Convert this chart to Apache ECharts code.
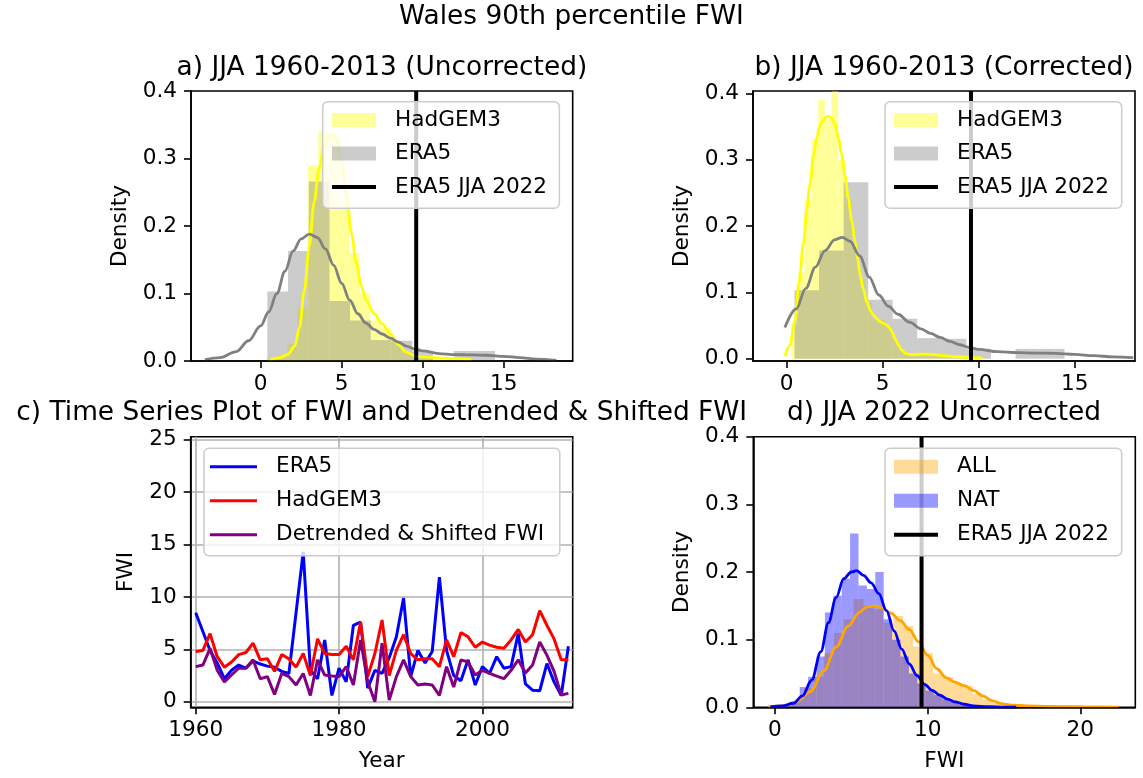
<!DOCTYPE html>
<html><head><meta charset="utf-8">
<script src="https://cdn.jsdelivr.net/npm/echarts@6/dist/echarts.min.js"></script>
<style>html,body{margin:0;padding:0;background:#fff}#c{width:1143px;height:778px}</style>
</head><body><div id="c"></div>
<script>
// ---------------- DATA ----------------
const ERA5_JJA_2022 = 9.6;

// ERA5 observed histogram (same in panels a and b)
const era5Edges = [0.41,1.69,2.97,4.25,5.52,6.80,8.08,9.36,10.64,11.92,13.19,14.47];
const era5Density = [0.103,0.163,0.266,0.089,0.060,0.031,0.030,0.015,0,0.0148,0.0148];

// a) HadGEM3 uncorrected histogram
const hadUncEdges = [0.36,1.0,1.64,2.28,2.92,3.56,4.2,4.84,5.48,6.12,6.76,7.4,8.04,8.68,9.32,9.96,10.6,11.24,11.88,12.52,13.16];
const hadUncDensity = [0.003,0.008,0.025,0.08,0.29,0.34,0.33,0.24,0.16,0.10,0.06,0.05,0.028,0.013,0.008,0.005,0.004,0.003,0.003,0.002];

// a) KDE curves
const hadUncKdeX = [0.57,1.2,1.7,2.1,2.4,2.7,3.0,3.3,3.6,3.9,4.2,4.45,4.7,5.0,5.3,5.6,5.9,6.2,6.5,7.0,7.5,8.0,8.5,9.0,9.5,10.0,11.0,12.0,13.0];
const hadUncKdeY = [0.002,0.005,0.01,0.022,0.05,0.105,0.17,0.235,0.285,0.318,0.334,0.337,0.328,0.295,0.245,0.19,0.145,0.112,0.09,0.07,0.055,0.04,0.024,0.013,0.008,0.006,0.0045,0.0035,0.0025];
const era5KdeAX = [-3.44,-2.5,-1.5,-0.75,0.0,0.5,1.0,1.5,2.0,2.5,3.0,3.5,4.0,4.5,5.0,5.5,6.0,6.5,7.0,7.5,8.0,8.5,9.0,9.5,10.0,11.0,12.0,13.0,14.0,15.0,16.0,17.0,18.25];
const era5KdeAY = [0.002,0.005,0.014,0.03,0.052,0.073,0.1,0.133,0.163,0.181,0.188,0.183,0.166,0.142,0.115,0.09,0.07,0.056,0.047,0.04,0.034,0.028,0.022,0.018,0.015,0.011,0.0095,0.009,0.0085,0.007,0.005,0.0028,0.001];

// b) HadGEM3 corrected histogram
const hadCorEdges = [0.24,0.59,0.94,1.29,1.64,1.99,2.34,2.69,3.04,3.39,3.74,4.09,4.44,4.79,5.14,5.49,5.84,6.19,6.54,6.89,7.24,7.59,7.94,8.29,8.64,8.99,9.34,9.69,10.04];
const hadCorDensity = [0.05,0.13,0.24,0.33,0.39,0.36,0.42,0.30,0.24,0.17,0.12,0.085,0.06,0.058,0.05,0.03,0.012,0.006,0.006,0.008,0.007,0.005,0.004,0.003,0.003,0.002,0.002,0.001];

// b) KDE curves
const hadCorKdeX = [-0.09,0.17,0.43,0.65,0.87,1.05,1.21,1.4,1.56,1.75,1.91,2.05,2.17,2.35,2.52,2.7,2.86,3.05,3.21,3.4,3.56,3.7,3.82,4.0,4.17,4.34,4.51,4.7,4.86,5.05,5.21,5.35,5.47,5.65,5.82,6.0,6.16,6.4,6.6,6.95,7.29,7.7,8.16,8.8,9.55,10.2];
const hadCorKdeY = [0.0035,0.02,0.056,0.115,0.172,0.225,0.262,0.305,0.333,0.352,0.36,0.364,0.366,0.362,0.353,0.332,0.308,0.275,0.242,0.207,0.177,0.15,0.127,0.104,0.086,0.074,0.066,0.06,0.056,0.053,0.051,0.047,0.041,0.03,0.021,0.013,0.0085,0.0065,0.006,0.007,0.007,0.006,0.0045,0.003,0.002,0.0008];
const era5KdeBX = [-0.09,0.5,1.0,1.5,2.0,2.5,2.9,3.3,3.8,4.3,4.8,5.3,5.8,6.4,7.0,7.5,8.0,8.5,9.0,9.5,10.0,11.0,12.0,13.0,14.0,15.0,16.0,17.0,18.05];
const era5KdeBY = [0.047,0.075,0.106,0.138,0.163,0.179,0.183,0.177,0.155,0.123,0.096,0.079,0.067,0.055,0.045,0.038,0.032,0.026,0.021,0.017,0.014,0.0105,0.009,0.0085,0.008,0.0065,0.0045,0.0028,0.0015];

// c) time series
const years = [1960,1961,1962,1963,1964,1965,1966,1967,1968,1969,1970,1971,1972,1973,1974,1975,1976,1977,1978,1979,1980,1981,1982,1983,1984,1985,1986,1987,1988,1989,1990,1991,1992,1993,1994,1995,1996,1997,1998,1999,2000,2001,2002,2003,2004,2005,2006,2007,2008,2009,2010,2011,2012];
const era5Fwi = [8.5,6.7,4.9,3.7,2.2,3.0,3.5,3.2,3.9,3.6,3.4,3.3,2.9,2.7,8.5,14.3,3.0,2.2,5.9,0.6,3.2,1.9,7.3,7.6,1.3,3.0,2.7,4.2,6.2,9.9,2.4,4.9,3.7,4.8,11.9,4.9,2.5,2.0,4.0,1.6,3.35,2.7,4.3,3.2,3.35,6.5,1.7,1.1,1.05,3.65,1.9,0.6,5.3];
const hadgemFwi = [4.8,4.9,6.5,4.3,3.3,3.8,4.5,4.7,5.6,4.0,4.1,2.9,4.5,4.1,3.3,4.6,2.5,6.0,4.6,4.5,4.5,5.3,4.0,7.6,2.4,4.6,7.8,2.5,4.9,6.4,4.6,4.0,4.1,4.1,3.35,5.9,4.3,6.6,6.2,5.2,5.7,5.4,5.2,5.1,5.9,6.9,5.7,6.4,8.7,7.3,6.0,4.0,4.0];
const detrendedFwi = [3.35,3.5,5.1,3.0,1.9,2.55,3.2,3.2,4.0,2.2,2.4,0.7,2.7,2.4,1.6,2.7,0.6,4.0,2.55,2.45,2.4,3.35,1.6,5.9,1.9,0.0,5.6,0.15,2.4,4.0,2.4,1.6,1.7,1.6,0.6,3.35,1.4,4.0,3.8,2.55,3.0,2.7,2.45,2.2,3.0,4.0,2.75,3.5,5.7,4.45,2.9,0.65,0.8];

// d) ALL / NAT histograms
const allEdges = [0.6,1.25,1.9,2.55,3.2,3.85,4.5,5.15,5.8,6.45,7.1,7.75,8.4,9.05,9.7,10.35,11.0,11.65,12.3,12.95,13.6,14.25,14.9,15.55,16.2,16.85,17.5,18.15,18.8,19.45,20.1];
const allDensity = [0.004,0.012,0.028,0.045,0.08,0.11,0.13,0.16,0.15,0.145,0.125,0.135,0.12,0.09,0.08,0.05,0.045,0.035,0.032,0.02,0.012,0.006,0.004,0.003,0.003,0.002,0.001,0.001,0.001,0.001];
const natEdges = [0.52,1.07,1.62,2.17,2.72,3.27,3.82,4.37,4.92,5.47,6.02,6.57,7.12,7.67,8.22,8.77,9.32,9.87,10.42,10.97,11.52,12.07,12.62,13.17];
const natDensity = [0.002,0.008,0.03,0.045,0.075,0.14,0.165,0.19,0.257,0.18,0.175,0.20,0.13,0.10,0.075,0.05,0.035,0.025,0.018,0.012,0.008,0.004,0.002];
const allKdeX = [-0.44,0.5,1.4,2.3,3.2,4.0,4.8,5.5,6.0,6.5,7.0,7.6,8.2,8.8,9.4,10.0,10.6,11.2,11.8,12.4,13.0,13.6,14.2,14.8,15.5,16.5,18.0,20.0,22.5];
const allKdeY = [0.0005,0.002,0.008,0.023,0.054,0.089,0.12,0.14,0.148,0.15,0.147,0.139,0.128,0.115,0.097,0.077,0.057,0.044,0.037,0.032,0.025,0.017,0.01,0.0055,0.0033,0.002,0.0012,0.0008,0.0003];
const natKdeX = [-0.3,0.5,1.2,1.8,2.4,3.0,3.5,4.0,4.5,5.0,5.35,5.8,6.3,6.8,7.3,7.8,8.3,8.8,9.3,9.8,10.3,10.8,11.3,11.8,12.4,13.0,14.0,15.0,15.8];
const natKdeY = [0.0005,0.002,0.006,0.017,0.04,0.082,0.125,0.162,0.19,0.2,0.202,0.195,0.184,0.168,0.143,0.113,0.086,0.064,0.047,0.034,0.025,0.018,0.012,0.008,0.0045,0.002,0.0008,0.0003,0.0001];

// tick labels
const densTicks = [0,0.1,0.2,0.3,0.4];
const fwiTicksAB = [0,5,10,15];
const fwiTicksD = [0,10,20];
const yearTicks = [1960,1980,2000];
const tsTicks = [0,5,10,15,20,25];

// ---------------- CHART ----------------
const FONT = 'DejaVu Sans';
const SMALL = 21.6, BIG = 26.4;
const chart = echarts.init(document.getElementById('c'), null, {renderer:'canvas'});

const histData = (e, d) => d.map((v, i) => [e[i], e[i+1], v]);
const xy = (xs, ys) => xs.map((x, i) => [x, ys[i]]);

function renderHist(params, api) {
  const x0 = api.value(0), x1 = api.value(1), h = api.value(2);
  const p0 = api.coord([x0, 0]);
  const p1 = api.coord([x1, h]);
  const r = echarts.graphic.clipRectByRect(
    {x: p0[0], y: p1[1], width: p1[0] - p0[0], height: p0[1] - p1[1]}, params.coordSys);
  if (!r) return null;
  return {type: 'rect', shape: r, style: {fill: api.visual('color')}};
}
function hist(name, idx, e, d, color) {
  return {type: 'custom', name, xAxisIndex: idx, yAxisIndex: idx, renderItem: renderHist,
    itemStyle: {color}, data: histData(e, d), encode: {x: [0, 1], y: 2}, z: 2, clip: true, silent: true};
}
function line(name, idx, data, color, width, smooth, z) {
  return {type: 'line', name, xAxisIndex: idx, yAxisIndex: idx, data, symbol: 'none', showSymbol: false,
    lineStyle: {color, width}, itemStyle: {color}, smooth: smooth ? 0.35 : false,
    smoothMonotone: smooth ? 'x' : null, z: z || 3, silent: true, clip: true};
}
function vline(name, idx, ymin, ymax) {
  return line(name, idx, [[ERA5_JJA_2022, ymin], [ERA5_JJA_2022, ymax]], '#000', 4, false, 4);
}

const axLine = {show: true, onZero: false, lineStyle: {color: '#000', width: 1.6}};
function axis(idx, min, max, ticks, fmt, name, nameGap, isY, z, split) {
  return {
    type: 'value', gridIndex: idx, min, max, z: z,
    position: isY ? 'left' : 'bottom',
    name, nameLocation: 'middle', nameGap,
    nameTextStyle: {fontFamily: FONT, fontSize: SMALL, color: '#000'},
    axisLine: axLine,
    axisTick: {show: true, inside: false, length: 7, lineStyle: {color: '#000', width: 1.6}, customValues: ticks},
    axisLabel: {customValues: ticks, formatter: fmt, color: '#000', fontFamily: FONT, fontSize: SMALL, margin: isY ? 14 : 12},
    splitLine: {show: !!split, lineStyle: {color: '#b0b0b0', width: 1.6}}
  };
}
const f1 = v => Number(v).toFixed(1);
const f0 = v => String(Math.round(v));

const grids = [
  {left: 191, top: 91, width: 381.7, height: 270},
  {left: 753, top: 91, width: 382, height: 270},
  {left: 190.7, top: 436.7, width: 382, height: 270.6},
  {left: 753.3, top: 436.7, width: 382, height: 270.6}
].map(g => Object.assign(g, {show: true, borderColor: '#000', borderWidth: 1.6, backgroundColor: 'transparent', containLabel: false, outerBoundsMode: 'none'}));

const yA = [0, 0.4], yB = [-0.0035, 0.4035], yC = [-0.53, 25.3], yD = [0, 0.4];

function legend(left, top, items, iconW, pad, gap) {
  return {
    orient: 'vertical', left, top, data: items, itemWidth: iconW, itemHeight: 14, itemGap: gap,
    symbolKeepAspect: true,
    padding: pad, backgroundColor: 'rgba(255,255,255,0.8)', borderColor: '#cccccc', borderWidth: 1.5,
    borderRadius: 5, selectedMode: false, z: 10, formatter: n => n.slice(2),
    textStyle: {fontFamily: FONT, fontSize: SMALL, color: '#000', lineHeight: 24, padding: [0, 0, 0, 14]}
  };
}
const Y40 = 'rgba(255,255,0,0.4)', G40 = 'rgba(128,128,128,0.4)', O40 = 'rgba(255,165,0,0.4)', B40 = 'rgba(0,0,255,0.4)';
const thick = 'path://M0,0L44,0L44,4L0,4Z';
const thin = 'path://M0,0L47,0L47,3L0,3Z';

const option = {
  animation: false,
  backgroundColor: '#fff',
  textStyle: {fontFamily: FONT},
  title: [
    {text: 'Wales 90th percentile FWI', left: 571.5, top: 2},
    {text: 'a) JJA 1960-2013 (Uncorrected)', left: 381.9, top: 53},
    {text: 'b) JJA 1960-2013 (Corrected)', left: 944, top: 53},
    {text: 'c) Time Series Plot of FWI and Detrended & Shifted FWI', left: 381.7, top: 398},
    {text: 'd) JJA 2022 Uncorrected', left: 944, top: 398}
  ].map(t => Object.assign(t, {textAlign: 'center', padding: 0,
    textStyle: {fontFamily: FONT, fontSize: BIG, fontWeight: 'normal', color: '#000', lineHeight: 30}})),
  grid: grids,
  xAxis: [
    axis(0, -4.3, 19.26, fwiTicksAB, f0, '', 0, false, 5),
    axis(1, -1.75, 18.14, fwiTicksAB, f0, '', 0, false, 5),
    axis(2, 1959.3, 2012.6, yearTicks, f0, 'Year', 43, false, 0, true),
    axis(3, -1.42, 23.6, fwiTicksD, f0, 'FWI', 43, false, 5)
  ],
  yAxis: [
    axis(0, yA[0], yA[1], densTicks, f1, 'Density', 60, true, 5),
    axis(1, yB[0], yB[1], densTicks, f1, 'Density', 60, true, 5),
    axis(2, yC[0], yC[1], tsTicks, f0, 'FWI', 53, true, 0, true),
    axis(3, yD[0], yD[1], densTicks, f1, 'Density', 60, true, 5)
  ],
  legend: [
    legend(322.7, 101.7, [
      {name: 'a:HadGEM3', icon: 'rect', itemStyle: {color: Y40}},
      {name: 'a:ERA5', icon: 'rect', itemStyle: {color: G40}},
      {name: 'a:ERA5 JJA 2022', icon: thick, itemStyle: {color: '#000'}}], 44, [6.3, 12.3, 9.3, 9.3], 9.5),
    legend(885, 101.7, [
      {name: 'b:HadGEM3', icon: 'rect', itemStyle: {color: Y40}},
      {name: 'b:ERA5', icon: 'rect', itemStyle: {color: G40}},
      {name: 'b:ERA5 JJA 2022', icon: thick, itemStyle: {color: '#000'}}], 44, [6.3, 12.6, 9.3, 9], 9.5),
    legend(204, 448.3, [
      {name: 'c:ERA5', icon: thin, itemStyle: {color: '#0000ff'}},
      {name: 'c:HadGEM3', icon: thin, itemStyle: {color: '#ff0000'}},
      {name: 'c:Detrended & Shifted FWI', icon: thin, itemStyle: {color: '#800080'}}], 47, [6.4, 15.7, 9, 6], 10),
    legend(885, 448.3, [
      {name: 'd:ALL', icon: 'rect', itemStyle: {color: O40}},
      {name: 'd:NAT', icon: 'rect', itemStyle: {color: B40}},
      {name: 'd:ERA5 JJA 2022', icon: thick, itemStyle: {color: '#000'}}], 44, [6.4, 12.6, 9, 9], 10)
  ],
  series: [
    // a
    hist('a:HadGEM3', 0, hadUncEdges, hadUncDensity, Y40),
    hist('a:ERA5', 0, era5Edges, era5Density, G40),
    line('a:kde_had', 0, xy(hadUncKdeX, hadUncKdeY), '#ffff00', 2.8, true),
    line('a:kde_era5', 0, xy(era5KdeAX, era5KdeAY), '#808080', 2.8, true),
    vline('a:ERA5 JJA 2022', 0, yA[0], yA[1]),
    // b
    hist('b:HadGEM3', 1, hadCorEdges, hadCorDensity, Y40),
    hist('b:ERA5', 1, era5Edges, era5Density, G40),
    line('b:kde_had', 1, xy(hadCorKdeX, hadCorKdeY), '#ffff00', 2.8, true),
    line('b:kde_era5', 1, xy(era5KdeBX, era5KdeBY), '#808080', 2.8, true),
    vline('b:ERA5 JJA 2022', 1, yB[0], yB[1]),
    // c
    line('c:ERA5', 2, xy(years, era5Fwi), '#0000ff', 3, false),
    line('c:HadGEM3', 2, xy(years, hadgemFwi), '#ff0000', 3, false),
    line('c:Detrended & Shifted FWI', 2, xy(years, detrendedFwi), '#800080', 3, false),
    // d
    hist('d:ALL', 3, allEdges, allDensity, O40),
    hist('d:NAT', 3, natEdges, natDensity, B40),
    line('d:kde_all', 3, xy(allKdeX, allKdeY), '#ffa500', 2.8, true),
    line('d:kde_nat', 3, xy(natKdeX, natKdeY), '#0000ff', 2.8, true),
    vline('d:ERA5 JJA 2022', 3, yD[0], yD[1])
  ]
};
chart.setOption(option);
</script>
</body></html>
